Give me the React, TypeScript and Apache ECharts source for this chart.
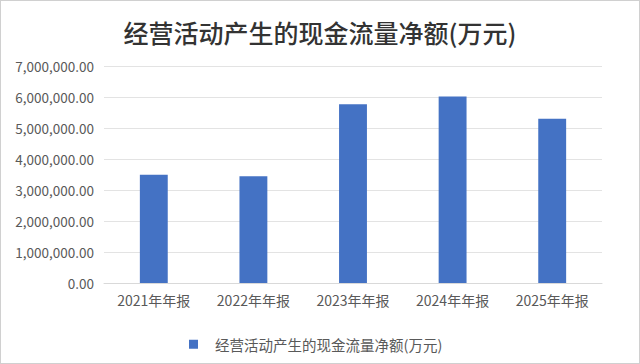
import React, { useEffect, useRef } from "react";
import * as echarts from "echarts";

const title = "经营活动产生的现金流量净额(万元)";
const seriesName = "经营活动产生的现金流量净额(万元)";
const categories = ["2021年年报", "2022年年报", "2023年年报", "2024年年报", "2025年年报"];
const values = [3490000, 3440000, 5770000, 6020000, 5300000];

const font = "'Noto Sans CJK SC', 'Noto Sans', sans-serif";

export default function App() {
  const ref = useRef<HTMLDivElement>(null);
  useEffect(() => {
    if (!ref.current) return;
    const chart = echarts.init(ref.current, undefined, { renderer: "svg" });
    chart.setOption({
      animation: false,
      backgroundColor: "#ffffff",
      title: {
        text: title,
        left: "center",
        top: 13,
        textStyle: { fontFamily: font, fontSize: 25, fontWeight: 500, color: "#333333" },
      },
      grid: { left: 103, right: 37, top: 65, bottom: 80, containLabel: false },
      legend: {
        data: [seriesName],
        left: 183,
        top: 331,
        icon: "rect",
        itemWidth: 9,
        itemHeight: 9,
        itemGap: 10,
        textStyle: { fontFamily: font, fontSize: 14.5, color: "#595959", padding: [0, 0, 0, 12] },
      },
      xAxis: {
        type: "category",
        data: categories,
        axisLine: { lineStyle: { color: "#d9d9d9" } },
        axisTick: { show: false },
        axisLabel: { fontFamily: font, fontSize: 14, color: "#595959", margin: 10 },
      },
      yAxis: {
        type: "value",
        min: 0,
        max: 7000000,
        interval: 1000000,
        axisLine: { show: false },
        axisTick: { show: false },
        splitLine: { lineStyle: { color: "#e3e3e3" } },
        axisLabel: {
          fontFamily: font,
          fontSize: 13.5,
          color: "#595959",
          margin: 10,
          formatter: (v: number) =>
            v.toLocaleString("en-US", { minimumFractionDigits: 2, maximumFractionDigits: 2 }),
        },
      },
      series: [
        {
          name: seriesName,
          type: "bar",
          data: values,
          barWidth: "28%",
          itemStyle: { color: "#4472C4" },
        },
      ],
    });
    return () => chart.dispose();
  }, []);
  return (
    <div
      style={{
        position: "fixed",
        left: 0,
        top: 0,
        width: 640,
        height: 364,
        boxSizing: "border-box",
        border: "1px solid #d0d0d0",
        background: "#fff",
      }}
    >
      <div ref={ref} style={{ width: 638, height: 362 }} />
    </div>
  );
}
